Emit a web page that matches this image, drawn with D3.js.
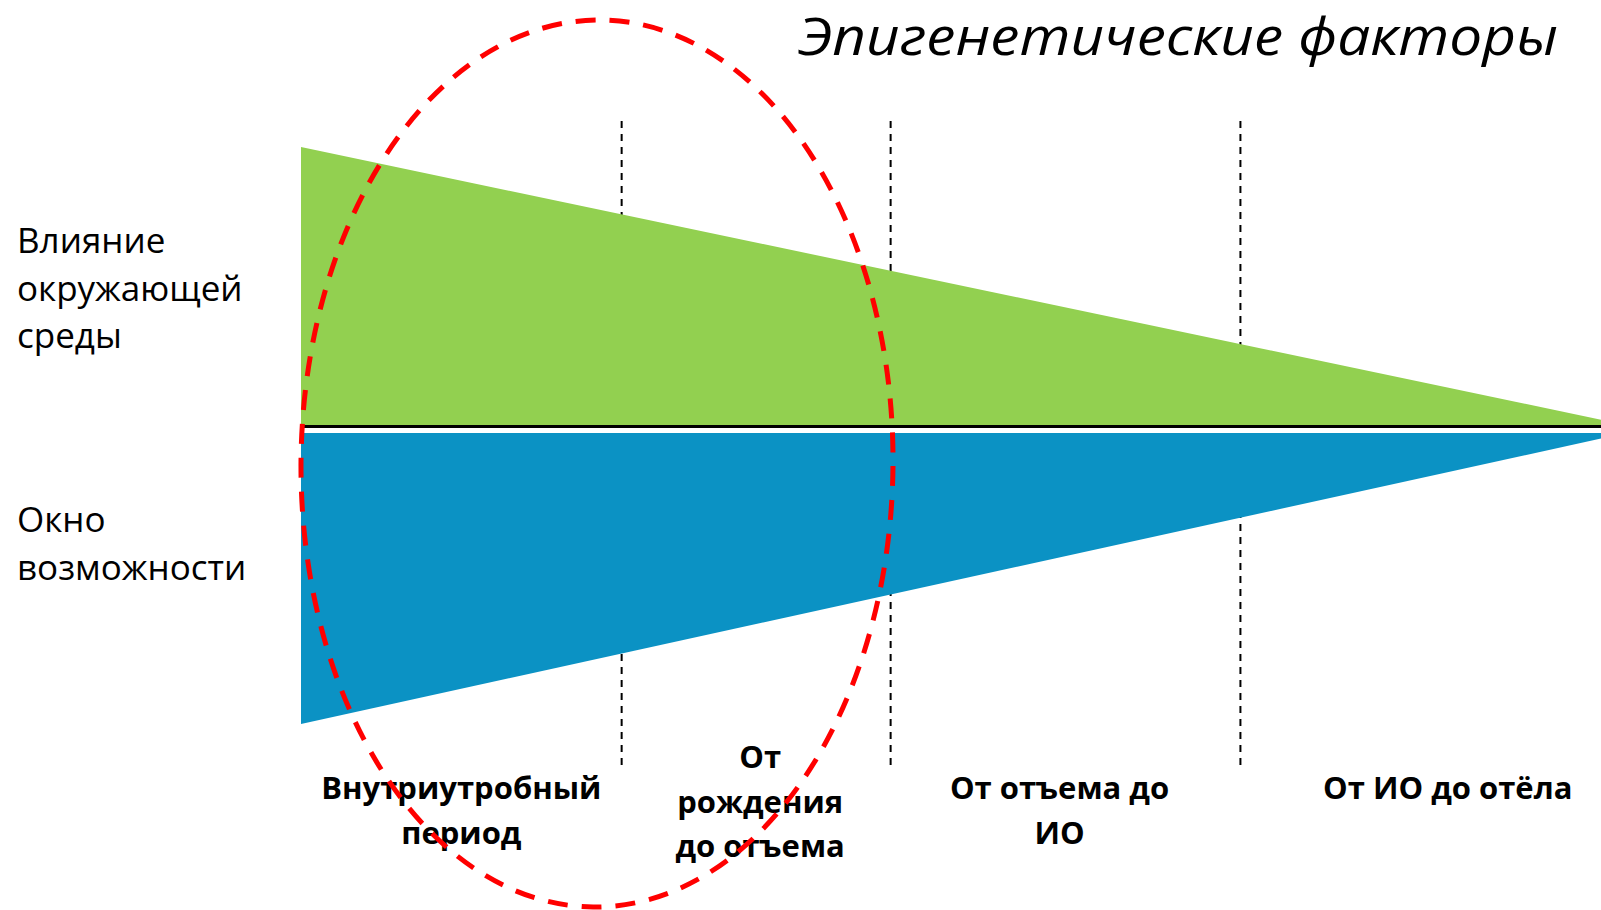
<!DOCTYPE html>
<html>
<head>
<meta charset="utf-8">
<script src="https://cdn.jsdelivr.net/npm/d3@7"></script>
<style>
  html, body { margin: 0; padding: 0; background: #ffffff; }
  svg { display: block; }
</style>
</head>
<body>
<script>
// ---- data ----
const positions   = [0, 100];          // timeline position (start, apex)
const greenValues = [95.5, 0];         // Влияние окружающей среды
const blueValues  = [100, 0];          // Окно возможности
const stageBounds = [24.2, 44.5, 70.9];
const stageLabels = [
  ["Внутриутробный", "период"],
  ["От", "рождения", "до отъема"],
  ["От отъема до", "ИО"],
  ["От ИО до отёла"]
];
const rowLabels = [
  ["Влияние", "окружающей", "среды"],
  ["Окно", "возможности"]
];
const titleText = "Эпигенетические факторы";

// ---- layout ----
const W = 1601, H = 910;
const svg = d3.select("body").append("svg").attr("width", W).attr("height", H);

const x = d3.scaleLinear().domain([0, 100]).range([301, 1626]);
const mag = d3.scaleLinear().domain([0, 100]).range([0, 291]);
const greenBase = 425, blueBase = 433;

const pts = positions.map((p, i) => ({p, g: greenValues[i], b: blueValues[i]}));

// dashed stage dividers (behind the fills)
svg.append("g").selectAll("line").data(stageBounds).join("line")
  .attr("x1", d => x(d)).attr("x2", d => x(d))
  .attr("y1", 121).attr("y2", 771)
  .attr("stroke", "#000").attr("stroke-width", 2)
  .attr("stroke-dasharray", "7,6");

// green area
const greenArea = d3.area().x(d => x(d.p)).y0(greenBase).y1(d => greenBase - mag(d.g));
svg.append("path").datum(pts).attr("d", greenArea).attr("fill", "#92D050");

// blue area
const blueArea = d3.area().x(d => x(d.p)).y0(blueBase).y1(d => blueBase + mag(d.b));
svg.append("path").datum(pts).attr("d", blueArea).attr("fill", "#0B92C4");

// baseline
svg.append("line").attr("x1", x(0)).attr("x2", W).attr("y1", 426.5).attr("y2", 426.5)
  .attr("stroke", "#000").attr("stroke-width", 3);

// title
svg.append("text").text(titleText)
  .attr("x", 798).attr("y", 55)
  .attr("textLength", 760).attr("lengthAdjust", "spacingAndGlyphs")
  .attr("font-family", "'Open Sans', sans-serif").attr("font-style", "italic")
  .attr("font-size", 51.5).attr("fill", "#000");

// row labels
const rowFirstBaselines = [253, 532];
rowLabels.forEach((lines, i) => {
  const t = svg.append("text").attr("font-family", "'Open Sans', sans-serif")
    .attr("font-size", 35).attr("fill", "#000");
  lines.forEach((ln, j) => {
    t.append("tspan").attr("x", 17).attr("y", rowFirstBaselines[i] + j * 47.5).text(ln);
  });
});

// stage labels
const edges = [0, ...stageBounds, x.invert(W)];
const labelOffsets = [0, 4, -6, 27];
stageLabels.forEach((lines, i) => {
  const cx = (x(edges[i]) + x(edges[i + 1])) / 2 + labelOffsets[i];
  const first = 799 - (lines.length > 2 ? 31 : 0);
  const t = svg.append("text").attr("font-family", "'Open Sans', sans-serif")
    .attr("font-weight", "bold").attr("font-size", 31).attr("text-anchor", "middle").attr("fill", "#000");
  lines.forEach((ln, j) => {
    t.append("tspan").attr("x", cx).attr("y", first + j * 44.5).text(ln);
  });
});

// red dashed ellipse highlight
svg.append("ellipse")
  .attr("cx", 597).attr("cy", 463.5).attr("rx", 296).attr("ry", 443.5)
  .attr("transform", "rotate(0.5 597 463.5)")
  .attr("fill", "none").attr("stroke", "#FF0000").attr("stroke-width", 5)
  .attr("stroke-dasharray", "20,14");
</script>
</body>
</html>
